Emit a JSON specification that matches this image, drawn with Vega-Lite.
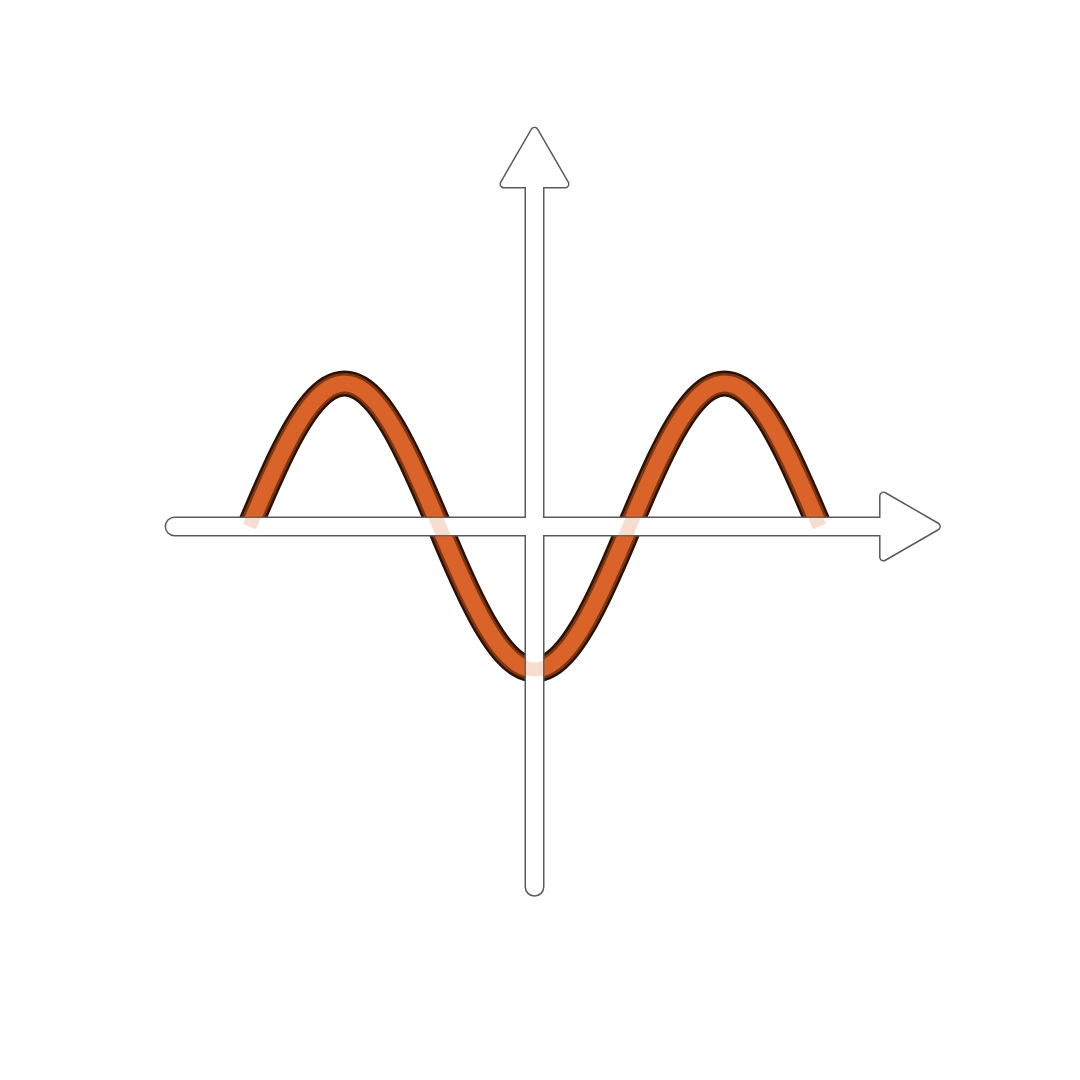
{
  "$schema": "https://vega.github.io/schema/vega-lite/v6.json",
  "width": 1080,
  "height": 1080,
  "autosize": {"type": "fit", "contains": "padding"},
  "padding": 0,
  "background": "white",
  "config": {"view": {"stroke": null}},
  "datasets": {
    "curve": [
      {"x": -270, "y": 0}, {"x": -255, "y": 0.2588}, {"x": -240, "y": 0.5}, {"x": -225, "y": 0.7071},
      {"x": -210, "y": 0.866}, {"x": -195, "y": 0.9659}, {"x": -180, "y": 1}, {"x": -165, "y": 0.9659},
      {"x": -150, "y": 0.866}, {"x": -135, "y": 0.7071}, {"x": -120, "y": 0.5}, {"x": -105, "y": 0.2588},
      {"x": -90, "y": 0}, {"x": -75, "y": -0.2588}, {"x": -60, "y": -0.5}, {"x": -45, "y": -0.7071},
      {"x": -30, "y": -0.866}, {"x": -15, "y": -0.9659}, {"x": 0, "y": -1}, {"x": 15, "y": -0.9659},
      {"x": 30, "y": -0.866}, {"x": 45, "y": -0.7071}, {"x": 60, "y": -0.5}, {"x": 75, "y": -0.2588},
      {"x": 90, "y": 0}, {"x": 105, "y": 0.2588}, {"x": 120, "y": 0.5}, {"x": 135, "y": 0.7071},
      {"x": 150, "y": 0.866}, {"x": 165, "y": 0.9659}, {"x": 180, "y": 1}, {"x": 195, "y": 0.9659},
      {"x": 210, "y": 0.866}, {"x": 225, "y": 0.7071}, {"x": 240, "y": 0.5}, {"x": 255, "y": 0.2588},
      {"x": 270, "y": 0}
    ],
    "axes": [
      {"axis": "h", "x": -341, "x2": 340, "y": 0, "y2": 0},
      {"axis": "v", "x": 0, "x2": 0, "y": -2.52, "y2": 2.45}
    ],
    "heads": [
      {"x": 355.7, "y": 0, "dir": "right"},
      {"x": 0, "y": 2.58, "dir": "up"}
    ]
  },
  "encoding": {
    "x": {"field": "x", "type": "quantitative", "axis": null, "scale": {"domain": [-506.4, 516.8], "nice": false, "zero": false}},
    "y": {"field": "y", "type": "quantitative", "axis": null, "scale": {"domain": [-3.871, 3.682], "nice": false, "zero": false}}
  },
  "layer": [
    {"data": {"name": "curve"}, "mark": {"type": "line", "interpolate": "monotone", "color": "#2a1205", "strokeWidth": 26, "strokeCap": "butt"}},
    {"data": {"name": "curve"}, "mark": {"type": "line", "interpolate": "monotone", "color": "#7e3511", "strokeWidth": 21, "strokeCap": "butt"}},
    {"data": {"name": "curve"}, "mark": {"type": "line", "interpolate": "monotone", "color": "#d9632a", "strokeWidth": 16, "strokeCap": "butt"}},
    {"data": {"name": "axes"}, "mark": {"type": "rule", "color": "#5a5a5a", "strokeWidth": 20, "strokeCap": "round"},
     "encoding": {"x2": {"field": "x2"}, "y2": {"field": "y2"}}},
    {"data": {"name": "heads"}, "mark": {"type": "point", "filled": true, "fill": "#5a5a5a", "stroke": "#5a5a5a", "strokeWidth": 9, "strokeJoin": "round", "opacity": 1, "size": 3721},
     "encoding": {"shape": {"field": "dir", "type": "nominal", "scale": {"domain": ["right", "up"], "range": ["triangle-right", "triangle-up"]}, "legend": null}}},
    {"data": {"name": "axes"}, "mark": {"type": "rule", "color": "#ffffff", "strokeWidth": 17, "strokeCap": "round"},
     "encoding": {"x2": {"field": "x2"}, "y2": {"field": "y2"}}},
    {"data": {"name": "heads"}, "mark": {"type": "point", "filled": true, "fill": "#ffffff", "stroke": "#ffffff", "strokeWidth": 6, "strokeJoin": "round", "opacity": 1, "size": 3721},
     "encoding": {"shape": {"field": "dir", "type": "nominal", "scale": {"domain": ["right", "up"], "range": ["triangle-right", "triangle-up"]}, "legend": null}}},
    {"data": {"name": "curve"}, "mark": {"type": "line", "interpolate": "monotone", "color": "#d9632a", "strokeWidth": 14, "strokeCap": "butt", "opacity": 0.22}}
  ]
}
